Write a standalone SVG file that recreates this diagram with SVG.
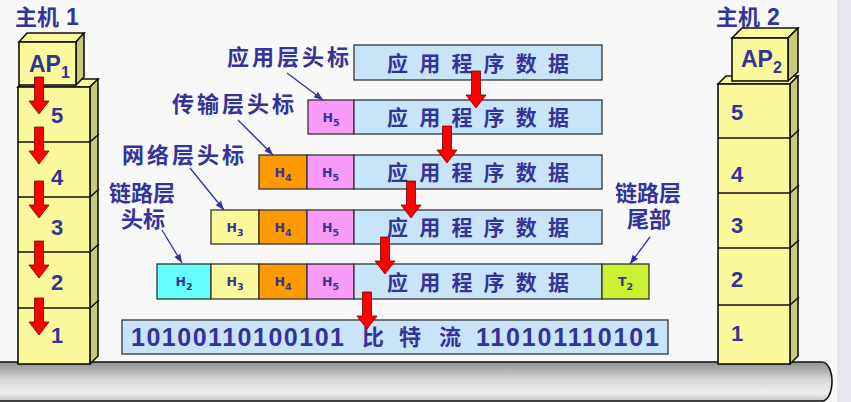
<svg xmlns="http://www.w3.org/2000/svg" xmlns:xlink="http://www.w3.org/1999/xlink" width="851" height="402" viewBox="0 0 851 402">
<defs>
<style>
.zh{font-family:"Noto Sans CJK SC","Noto Sans",sans-serif;font-weight:700;fill:#333399}
.la{font-family:"Liberation Sans",Arial,sans-serif;font-weight:700;fill:#333399}
.hv{font-family:"DejaVu Sans","Liberation Sans",sans-serif;font-weight:700;fill:#333399;font-size:12.5px}
.fr{fill:#fafa9c;stroke:#111;stroke-width:1.6}
.sd{fill:#c9c97a;stroke:#111;stroke-width:1.6;stroke-linejoin:round}
.ln{stroke:#111;stroke-width:1.6;fill:none}
.bx{stroke:#333;stroke-width:1.3}
.data{fill:#c8e4f8}
.h5{fill:#f99cf9}.h4{fill:#ff9900}.h3{fill:#fafa9c}.h2{fill:#66ffff}.t2{fill:#ccf033}
.ptr{stroke:#333399;stroke-width:1.3;fill:none;marker-end:url(#ah)}
.ra{fill:#ff0000;stroke:#7a0000;stroke-width:0.8}
</style>
<marker id="ah" markerUnits="userSpaceOnUse" markerWidth="10" markerHeight="8" refX="9" refY="3.5" orient="auto">
<path d="M0,0 L9,3.5 L0,7 z" fill="#333399"/>
</marker>
<path id="red" d="M-4.5 0 H4.5 V24 H10 L0 37 L-10 24 H-4.5 Z"/>
<linearGradient id="pipe" x1="0" y1="0" x2="0" y2="1">
<stop offset="0" stop-color="#8e8e8e"/>
<stop offset="0.45" stop-color="#d6d6d6"/>
<stop offset="0.8" stop-color="#eeeeee"/>
<stop offset="1" stop-color="#c4c4c4"/>
</linearGradient>
</defs>
<rect x="0" y="0" width="851" height="402" fill="#f8f8f8"/>
<rect x="837" y="0" width="14" height="402" fill="#e6e6ee"/>

<g id="network-pipe">
<path d="M-5 362 H822 A10 19.5 0 0 1 822 401 H-5 Z" fill="url(#pipe)" stroke="#111" stroke-width="1.6"/>
</g>

<g id="host1">
<text class="zh" x="15" y="25" font-size="22">主机<tspan class="la" x="66" font-size="23">1</tspan></text>
<polygon class="fr" points="18,87 26,79 98,79 90,87"/>
<polygon class="sd" points="90,87 98,79 98,356 90,364"/>
<rect class="fr" x="18" y="87" width="72" height="277"/>
<path class="ln" d="M18 142 H90 L99 134 M18 197 H90 L99 189 M18 252 H90 L99 244 M18 308 H90 L99 300"/>
<polygon class="fr" points="19,42 27,33 84,33 76,42"/>
<polygon class="sd" points="76,42 84,33 84,77 76,85"/>
<rect class="fr" x="19" y="42" width="57" height="43"/>
<text class="la" x="29" y="72" font-size="23">AP<tspan font-size="16" dy="6">1</tspan></text>
<text class="la" x="51" y="123" font-size="22">5</text>
<text class="la" x="51" y="185" font-size="22">4</text>
<text class="la" x="51" y="235" font-size="22">3</text>
<text class="la" x="51" y="290" font-size="22">2</text>
<text class="la" x="51" y="343" font-size="22">1</text>
</g>

<g id="host2">
<text class="zh" x="716" y="25" font-size="22">主机<tspan class="la" x="767" font-size="23">2</tspan></text>
<polygon class="fr" points="718,84 726,76 798,76 790,84"/>
<polygon class="sd" points="790,84 798,76 798,356 790,364"/>
<rect class="fr" x="718" y="84" width="72" height="280"/>
<path class="ln" d="M718 138 H790 L799 130 M718 193 H790 L799 185 M718 248 H790 L799 240 M718 305 H790 L799 297"/>
<polygon class="fr" points="732,38 742,28 798,28 788,38"/>
<polygon class="sd" points="788,38 798,28 798,72 788,81"/>
<rect class="fr" x="732" y="38" width="56" height="43"/>
<text class="la" x="741" y="67" font-size="23">AP<tspan font-size="16" dy="6">2</tspan></text>
<text class="la" x="731" y="120" font-size="22">5</text>
<text class="la" x="731" y="182" font-size="22">4</text>
<text class="la" x="731" y="233" font-size="22">3</text>
<text class="la" x="731" y="287" font-size="22">2</text>
<text class="la" x="731" y="341" font-size="22">1</text>
</g>

<g id="row-application">
<rect class="bx data" x="354" y="45" width="248" height="35"/>
<text class="zh" x="387" y="71" font-size="21" textLength="182" lengthAdjust="spacing">应用程序数据</text>
</g>

<g id="row-transport">
<rect class="bx h5" x="308" y="100" width="46" height="34"/>
<text class="hv" x="331" y="121.5" text-anchor="middle">H<tspan font-size="9.5" dy="4">5</tspan></text>
<rect class="bx data" x="354" y="100" width="248" height="34"/>
<text class="zh" x="387" y="125" font-size="21" textLength="182" lengthAdjust="spacing">应用程序数据</text>
</g>

<g id="row-network">
<rect class="bx h4" x="259" y="155" width="48" height="34"/>
<text class="hv" x="283" y="176.5" text-anchor="middle">H<tspan font-size="9.5" dy="4">4</tspan></text>
<rect class="bx h5" x="307" y="155" width="47" height="34"/>
<text class="hv" x="330.5" y="176.5" text-anchor="middle">H<tspan font-size="9.5" dy="4">5</tspan></text>
<rect class="bx data" x="354" y="155" width="248" height="34"/>
<text class="zh" x="387" y="180" font-size="21" textLength="182" lengthAdjust="spacing">应用程序数据</text>
</g>

<g id="row-network-h3">
<rect class="bx h3" x="211" y="210" width="48" height="34"/>
<text class="hv" x="235" y="231.5" text-anchor="middle">H<tspan font-size="9.5" dy="4">3</tspan></text>
<rect class="bx h4" x="259" y="210" width="48" height="34"/>
<text class="hv" x="283" y="231.5" text-anchor="middle">H<tspan font-size="9.5" dy="4">4</tspan></text>
<rect class="bx h5" x="307" y="210" width="47" height="34"/>
<text class="hv" x="330.5" y="231.5" text-anchor="middle">H<tspan font-size="9.5" dy="4">5</tspan></text>
<rect class="bx data" x="354" y="210" width="248" height="34"/>
<text class="zh" x="387" y="235" font-size="21" textLength="182" lengthAdjust="spacing">应用程序数据</text>
</g>

<g id="row-link">
<rect class="bx h2" x="157" y="264" width="54" height="35"/>
<text class="hv" x="184" y="286" text-anchor="middle">H<tspan font-size="9.5" dy="4">2</tspan></text>
<rect class="bx h3" x="211" y="264" width="48" height="35"/>
<text class="hv" x="235" y="286" text-anchor="middle">H<tspan font-size="9.5" dy="4">3</tspan></text>
<rect class="bx h4" x="259" y="264" width="48" height="35"/>
<text class="hv" x="283" y="286" text-anchor="middle">H<tspan font-size="9.5" dy="4">4</tspan></text>
<rect class="bx h5" x="307" y="264" width="47" height="35"/>
<text class="hv" x="330.5" y="286" text-anchor="middle">H<tspan font-size="9.5" dy="4">5</tspan></text>
<rect class="bx data" x="354" y="264" width="248" height="35"/>
<text class="zh" x="387" y="289.5" font-size="21" textLength="182" lengthAdjust="spacing">应用程序数据</text>
<rect class="bx t2" x="602" y="264" width="47" height="35"/>
<text class="hv" x="625.5" y="286" text-anchor="middle">T<tspan font-size="9.5" dy="4">2</tspan></text>
</g>

<g id="bitstream">
<rect class="bx data" x="122" y="320" width="546" height="34"/>
<text class="la" x="131" y="346" font-size="25" textLength="213" lengthAdjust="spacing">10100110100101</text>
<text class="zh" x="362" y="345" font-size="22">比</text>
<text class="zh" x="399" y="345" font-size="22">特</text>
<text class="zh" x="439" y="345" font-size="22">流</text>
<text class="la" x="476" y="346" font-size="25" textLength="183" lengthAdjust="spacing">110101110101</text>
</g>

<g id="labels">
<text class="zh" x="227" y="65" font-size="22" textLength="122" lengthAdjust="spacing">应用层头标</text>
<text class="zh" x="172" y="112" font-size="22" textLength="122" lengthAdjust="spacing">传输层头标</text>
<text class="zh" x="122" y="163" font-size="22" textLength="122" lengthAdjust="spacing">网络层头标</text>
<text class="zh" font-size="22"><tspan x="109" y="201">链路层</tspan><tspan x="121" y="227">头标</tspan></text>
<text class="zh" font-size="22"><tspan x="615" y="201">链路层</tspan><tspan x="627" y="227">尾部</tspan></text>
</g>

<g id="connectors">
<line class="ptr" x1="287" y1="73" x2="323" y2="100"/>
<line class="ptr" x1="238" y1="120" x2="273" y2="155"/>
<line class="ptr" x1="190" y1="168" x2="224" y2="210"/>
<line class="ptr" x1="162" y1="230" x2="182" y2="263"/>
<line class="ptr" x1="650" y1="237" x2="630" y2="264"/>
<use href="#red" xlink:href="#red" class="ra" x="39" y="77"/>
<use href="#red" xlink:href="#red" class="ra" x="39" y="127"/>
<use href="#red" xlink:href="#red" class="ra" x="39" y="181"/>
<use href="#red" xlink:href="#red" class="ra" x="39" y="241"/>
<use href="#red" xlink:href="#red" class="ra" x="39" y="298"/>
<use href="#red" xlink:href="#red" class="ra" x="476" y="71"/>
<use href="#red" xlink:href="#red" class="ra" x="447" y="126"/>
<use href="#red" xlink:href="#red" class="ra" x="411" y="181"/>
<use href="#red" xlink:href="#red" class="ra" x="385" y="237"/>
<use href="#red" xlink:href="#red" class="ra" x="367" y="292"/>
</g>
</svg>
